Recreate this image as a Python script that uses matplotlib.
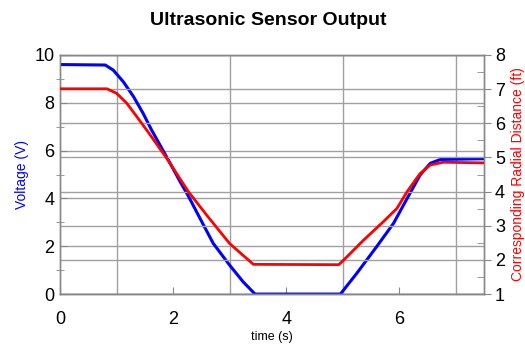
import matplotlib
matplotlib.use("Agg")
import matplotlib.pyplot as plt
import numpy as np

# -----------------------------
# Data
# -----------------------------
t_volt = [0.0, 0.8, 0.94, 1.12, 1.3, 1.47, 1.62, 1.89, 2.12, 2.27, 2.48, 2.71,
          3.0, 3.24, 3.45, 4.96, 5.25, 5.6, 5.9, 6.14, 6.37, 6.55, 6.73, 7.5]
voltage = [9.6, 9.58, 9.37, 8.88, 8.26, 7.56, 6.86, 5.72, 4.72, 4.1, 3.15, 2.12,
           1.21, 0.51, 0.0, 0.0, 0.87, 1.98, 2.96, 4.0, 4.98, 5.47, 5.63, 5.66]

t_dist = [0.0, 0.83, 1.0, 1.18, 1.36, 1.56, 1.89, 2.27, 2.6, 3.0, 3.42,
          4.93, 5.02, 5.37, 5.72, 5.96, 6.14, 6.37, 6.55, 6.78, 7.5]
distance = [7.01, 7.01, 6.88, 6.59, 6.19, 5.74, 4.97, 4.0, 3.3, 2.48, 1.87,
            1.86, 2.0, 2.58, 3.12, 3.51, 4.0, 4.53, 4.78, 4.86, 4.84]

x_ticks = [0, 2, 4, 6]
x_grid = [1, 3, 5, 7]
left_ticks = [0, 2, 4, 6, 8, 10]
right_ticks = [1, 2, 3, 4, 5, 6, 7, 8]

plt.rcParams["font.family"] = ["Liberation Sans", "DejaVu Sans"]

fig = plt.figure(figsize=(5.25, 3.48), dpi=100)
ax = fig.add_axes([0.1143, 0.155, 0.8076, 0.687])
ax2 = ax.twinx()

grid_c = "#a0a0a0"
for xg in x_grid:
    ax.axvline(xg, color=grid_c, lw=1.0, zorder=0)
for yg in left_ticks:
    ax.axhline(yg, color=grid_c, lw=1.0, zorder=0)
for yg in right_ticks:
    ax2.axhline(yg, color=grid_c, lw=1.0, zorder=0)

ax.plot(t_volt, voltage, color="#0000ff", lw=2.2, zorder=3)
ax2.plot(t_dist, distance, color="#ff0000", lw=2.0, zorder=3)

ax.set_xlim(0, 7.5)
ax.set_ylim(0, 10)
ax2.set_ylim(1, 8)

ax.set_xticks(x_ticks)
ax.set_yticks(left_ticks)
ax.set_yticks([1, 3, 5, 7, 9], minor=True)
ax2.set_yticks(right_ticks)
ax2.set_yticks(np.arange(1.5, 8, 1.0), minor=True)

ax.tick_params(axis="both", which="major", labelsize=13, direction="in",
               length=5, color="#888888", pad=4)
ax.tick_params(axis="y", which="minor", direction="inout", length=6, color="#888888")
ax.tick_params(axis="x", pad=12)
ax2.tick_params(axis="y", which="major", labelsize=13, direction="out",
                length=5, color="#888888", pad=3)
ax2.tick_params(axis="y", which="minor", direction="in", length=5, color="#888888")

for a in (ax, ax2):
    for s in a.spines.values():
        s.set_color("#888888")
        s.set_linewidth(1.0)
ax.spines["bottom"].set_color("#555555")

ax.set_xlabel("time (s)", fontsize=9, labelpad=2)
ax.set_ylabel("Voltage (V)", fontsize=10, color="#0000ff", labelpad=4)
ax2.set_ylabel("Corresponding Radial Distance (ft)", fontsize=10,
               color="#ff0000", labelpad=4)

fig.suptitle("Ultrasonic Sensor Output", x=0.51, y=0.965, fontsize=14,
             fontweight="bold", family=["Liberation Sans Narrow", "Liberation Sans"])

fig.savefig("out.png", dpi=100)
plt.close(fig)
